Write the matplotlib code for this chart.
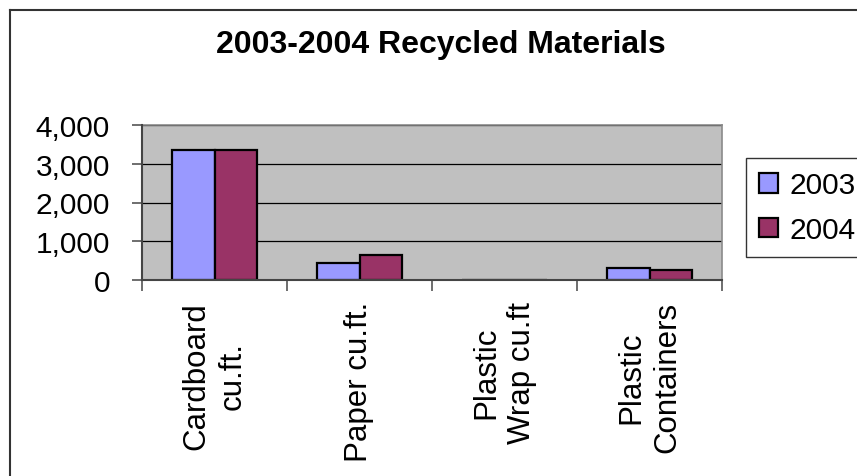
import matplotlib
matplotlib.use("Agg")
import matplotlib.pyplot as plt
from matplotlib.lines import Line2D
import numpy as np

categories = ["Cardboard\ncu.ft.", "Paper cu.ft.", "Plastic\nWrap cu.ft", "Plastic\nContainers"]
series_names = ["2003", "2004"]
values_2003 = [3355, 430, 0, 318]
values_2004 = [3355, 645, 0, 258]
yticks = [0, 1000, 2000, 3000, 4000]
ytick_labels = ["0", "1,000", "2,000", "3,000", "4,000"]
title = "2003-2004 Recycled Materials"

plt.rcParams['font.family'] = ['Liberation Sans', 'DejaVu Sans']
W, H = 857, 477
fig = plt.figure(figsize=(W / 100, H / 100), dpi=100)

# outer chart border (left & top visible)
fig.add_artist(Line2D([10 / W, 10 / W], [0, 1 - 11 / H], transform=fig.transFigure, color="#333333", lw=1.5))
fig.add_artist(Line2D([10 / W, 1], [1 - 11 / H, 1 - 11 / H], transform=fig.transFigure, color="#333333", lw=1.5))

left, right, top, bottom = 142, 722, 126, 281
ax = fig.add_axes([left / W, 1 - bottom / H, (right - left) / W, (bottom - top) / H])
ax.set_facecolor("#C0C0C0")

x = np.arange(len(categories))
bw = 0.29
ax.bar(x - bw / 2, values_2003, bw, color="#9999FF", edgecolor="black", linewidth=1.6, label=series_names[0], zorder=3)
ax.bar(x + bw / 2, values_2004, bw, color="#993366", edgecolor="black", linewidth=1.6, label=series_names[1], zorder=3)

ax.set_xlim(-0.5, len(categories) - 0.5)
ax.set_ylim(0, 4000)
ax.set_yticks(yticks)
ax.set_yticklabels(ytick_labels, fontsize=21.5)
ax.set_xticks(np.arange(len(categories) + 1) - 0.5)
ax.set_xticklabels([])
ax.set_xticks(x, minor=True)
ax.set_xticklabels(categories, minor=True, rotation=90, fontsize=22.5, ha="center", va="top",
                   multialignment="center", linespacing=1.25)
ax.tick_params(axis="x", which="minor", length=0, pad=15)
ax.tick_params(axis="x", which="major", length=8, width=1.2, color="#555555", direction="out")
ax.tick_params(axis="y", length=7, width=1.2, color="#555555", direction="out", pad=16)
ax.yaxis.grid(True, color="black", linewidth=0.9, zorder=1)
ax.set_axisbelow(True)
for s in ["top", "right"]:
    ax.spines[s].set_color("#8a8a8a")
    ax.spines[s].set_linewidth(1.2)
for s in ["left", "bottom"]:
    ax.spines[s].set_color("#444444")
    ax.spines[s].set_linewidth(1.5)
    ax.spines[s].set_zorder(4)

fig.text(0.5 * (215 + 667) / W, 1 - 45 / H, title, fontsize=23, fontweight="bold", ha="center", va="center")

leg = fig.legend(loc="upper left", bbox_to_anchor=(746 / W, 1 - 159 / H), fontsize=21.5,
                 frameon=True, fancybox=False, edgecolor="black", borderpad=0.45,
                 handlelength=0.62, handleheight=0.62, handletextpad=0.4, labelspacing=0.55,
                 borderaxespad=0)
leg.get_frame().set_linewidth(1.0)
leg.get_frame().set_facecolor("white")

fig.savefig("out.png", dpi=100)
